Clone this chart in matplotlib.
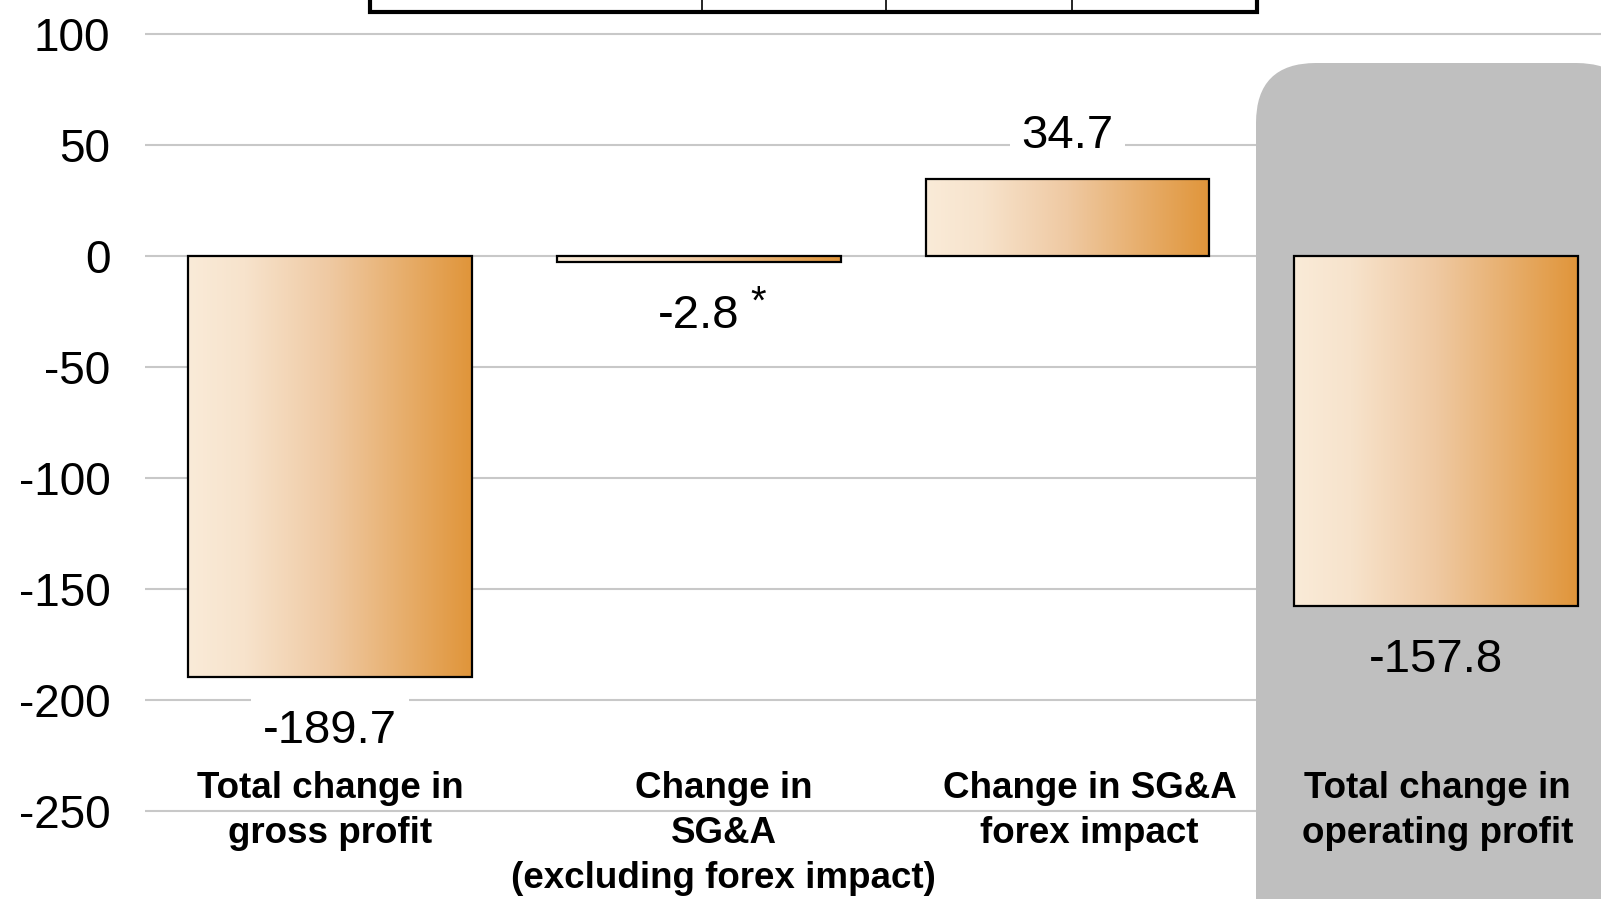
import matplotlib
matplotlib.use('Agg')
import matplotlib.pyplot as plt
import matplotlib.transforms as mtrans
from matplotlib.patches import Rectangle, FancyBboxPatch
from matplotlib.colors import LinearSegmentedColormap
import numpy as np

plt.rcParams['font.family'] = ['Liberation Sans', 'DejaVu Sans']

# Dados
categorias = ['Total change in\ngross profit',
              'Change in\nSG&A\n(excluding forex impact)',
              'Change in SG&A\nforex impact',
              'Total change in\noperating profit']
valores = [-189.7, -2.8, 34.7, -157.8]
rotulos = ['-189.7', '-2.8', '34.7', '-157.8']
yticks = [100, 50, 0, -50, -100, -150, -200, -250]

W, H = 1601, 899
fig = plt.figure(figsize=(W / 100, H / 100), dpi=100)
ax = fig.add_axes([145 / W, 0, (W - 145) / W, 1])

# transformacao em pixels da imagem (origem no canto superior esquerdo)
px = mtrans.Affine2D().scale(1 / W, -1 / H).translate(0, 1) + fig.transFigure

grad_cmap = LinearSegmentedColormap.from_list(
    'grad', [(0, '#FAEBD8'), (0.2, '#F7E3CC'), (0.5, '#EFC9A2'), (1, '#E0953A')])
grad = np.linspace(0, 1, 256).reshape(1, -1)

x = np.arange(len(valores))
largura = 0.77
barras = ax.bar(x, valores, width=largura, color='none', edgecolor='black',
                linewidth=1.6, zorder=3)
for b in barras:
    x0, y0 = b.get_x(), b.get_y()
    im = ax.imshow(grad, extent=[x0, x0 + b.get_width(), y0, y0 + b.get_height()],
                   aspect='auto', cmap=grad_cmap, zorder=2.5, interpolation='bilinear')
    im.set_clip_path(b)

# caixa cinza de destaque
caixa = FancyBboxPatch((1256, 63), 380, 900, boxstyle='round,pad=0,rounding_size=60',
                       transform=px, facecolor='#BFBFBF', edgecolor='none',
                       zorder=1, clip_on=False)
ax.add_patch(caixa)

# tabela cortada no topo
ax.add_patch(Rectangle((370, -40), 887, 52, transform=px, facecolor='none',
                       edgecolor='black', linewidth=3, zorder=4, clip_on=False))
for xl in [702, 886, 1072]:
    ax.plot([xl, xl], [-40, 12], color='black', linewidth=1.2, transform=px,
            zorder=4, clip_on=False)

# rotulos de valor
fundos = ['white', 'white', 'white', 'none']
for i, (v, r) in enumerate(zip(valores, rotulos)):
    dy = 31 if v > 0 else -39
    ax.annotate(r, xy=(i, v), xytext=(0, dy), textcoords='offset points',
                ha='center', va='center', fontsize=34, zorder=5,
                bbox=dict(boxstyle='square,pad=0.25', facecolor=fundos[i], edgecolor='none'))
ax.annotate('*', xy=(1, valores[1]), xytext=(43, -29), textcoords='offset points',
            ha='center', va='center', fontsize=29, zorder=5)

# rotulos de categoria
desloc = [0, 18, 16, 1]
for i, c in enumerate(categorias):
    ax.annotate(c, xy=(i, -232.3), xytext=(desloc[i], 0), textcoords='offset points',
                ha='center', va='top', fontsize=26.5, fontweight='bold',
                linespacing=1.37, zorder=5)

ax.set_xlim(-0.502, 3.447)
ax.set_ylim(-289.8, 115.2)
ax.set_yticks(yticks)
ax.set_yticklabels([str(t) for t in yticks])
ax.set_xticks([])
ax.tick_params(axis='y', length=0, pad=25, labelsize=33)
ax.grid(axis='y', color='#C8C8C8', linewidth=1.5)
ax.set_axisbelow(True)
for s in ax.spines.values():
    s.set_visible(False)

fig.savefig('out.png', dpi=100)
